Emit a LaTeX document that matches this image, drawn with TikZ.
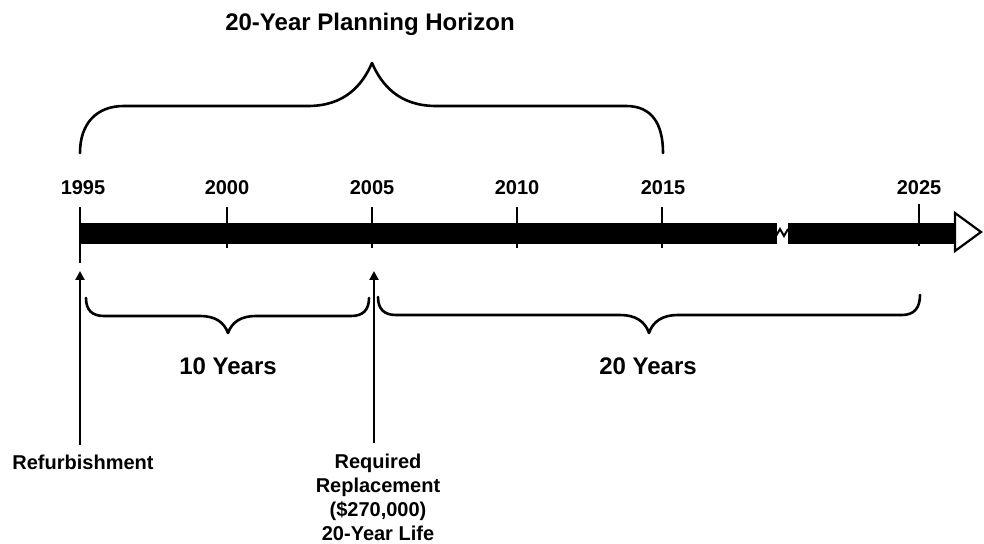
\documentclass[tikz,border=0pt]{standalone}
\usepackage{fontspec}
\setmainfont{Liberation Sans}
\usetikzlibrary{arrows.meta}
\newlength{\du}
\setlength{\du}{0.5pt}

\begin{document}
\begin{tikzpicture}[
  lbl/.style={font=\bfseries\fontsize{10pt}{12pt}\selectfont, inner sep=0pt, align=center},
  biglbl/.style={font=\bfseries\fontsize{12pt}{14pt}\selectfont, inner sep=0pt},
  brc/.style={line width=2.6\du, line cap=round, line join=round},
  tickline/.style={line width=2.2\du},
  uparrow/.style={line width=2.2\du, -{Triangle[length=4.5pt,width=4.5pt]}}
]
\pgftransformxscale{1.000000}
\pgftransformyscale{-1.000000}
\definecolor{dialinecolor}{rgb}{0.000000, 0.000000, 0.000000}
\useasboundingbox (0\du,0\du) rectangle (984\du,544\du);
% title and top brace
\node[biglbl, anchor=base] (horizon) at (370\du,31\du) {20-Year Planning Horizon};
\draw[brc, dialinecolor] (80\du,153\du) .. controls (80\du,124\du) and (96\du,106\du) .. (124\du,106\du) -- (308\du,106\du)
  .. controls (344\du,106\du) and (362\du,86\du) .. (372\du,63\du)
  .. controls (382\du,86\du) and (400\du,106\du) .. (436\du,106\du) -- (626\du,106\du)
  .. controls (652\du,106\du) and (663\du,124\du) .. (663\du,153\du);
% years
\node[lbl, anchor=base] (y1995) at (83\du,195\du) {1995};
\node[lbl, anchor=base] (y2000) at (227\du,195\du) {2000};
\node[lbl, anchor=base] (y2005) at (372\du,195\du) {2005};
\node[lbl, anchor=base] (y2010) at (517\du,195\du) {2010};
\node[lbl, anchor=base] (y2015) at (663\du,195\du) {2015};
\node[lbl, anchor=base] (y2025) at (919\du,195\du) {2025};
% time bar
\fill[dialinecolor] (80\du,223\du) rectangle (777\du,244\du);
\fill[dialinecolor] (788\du,223\du) rectangle (955\du,244\du);
\draw[line width=2\du, dialinecolor] (776\du,236\du) -- (780\du,229\du) -- (784\du,236\du) -- (788\du,229\du);
\filldraw[fill=white, draw=dialinecolor, line width=2.2\du, line join=miter] (955\du,213\du) -- (981\du,232\du) -- (955\du,251\du) -- cycle;
% ticks
\draw[tickline] (80\du,207\du) -- (80\du,263\du);
\draw[tickline] (227\du,207\du) -- (227\du,248\du);
\draw[tickline] (372\du,207\du) -- (372\du,248\du);
\draw[tickline] (517\du,207\du) -- (517\du,248\du);
\draw[tickline] (662\du,207\du) -- (662\du,248\du);
\draw[tickline] (919\du,204\du) -- (919\du,246\du);
% events
\coordinate (r1995) at (80\du,271\du);
\coordinate (b1995) at (80\du,445\du);
\coordinate (r2005) at (374\du,271\du);
\coordinate (b2005) at (374\du,443\du);
\draw[uparrow] (b1995) -- (r1995);
\draw[uparrow] (b2005) -- (r2005);
\node[lbl, anchor=base] (refurb) at (83\du,470\du) {Refurbishment};
\node[lbl, anchor=north] (replace) at (378\du,454\du) {Required\\Replacement\\(\$270,000)\\20-Year Life};
% lower braces
\draw[brc, dialinecolor] (86\du,298\du) .. controls (86\du,310\du) and (92\du,316\du) .. (104\du,316\du) -- (200\du,316\du)
  .. controls (215\du,316\du) and (224\du,322\du) .. (228\du,333\du)
  .. controls (232\du,322\du) and (241\du,316\du) .. (256\du,316\du) -- (351\du,316\du)
  .. controls (363\du,316\du) and (369\du,310\du) .. (369\du,298\du);
\node[biglbl, anchor=base] (ten) at (228\du,375\du) {10 Years};
\draw[brc, dialinecolor] (378\du,297\du) .. controls (378\du,309\du) and (384\du,315\du) .. (396\du,315\du) -- (620\du,315\du)
  .. controls (635\du,315\du) and (645\du,321\du) .. (649\du,333\du)
  .. controls (653\du,321\du) and (663\du,315\du) .. (678\du,315\du) -- (902\du,315\du)
  .. controls (914\du,315\du) and (920\du,308\du) .. (920\du,295\du);
\node[biglbl, anchor=base] (twenty) at (648\du,375\du) {20 Years};
\end{tikzpicture}
\end{document}
